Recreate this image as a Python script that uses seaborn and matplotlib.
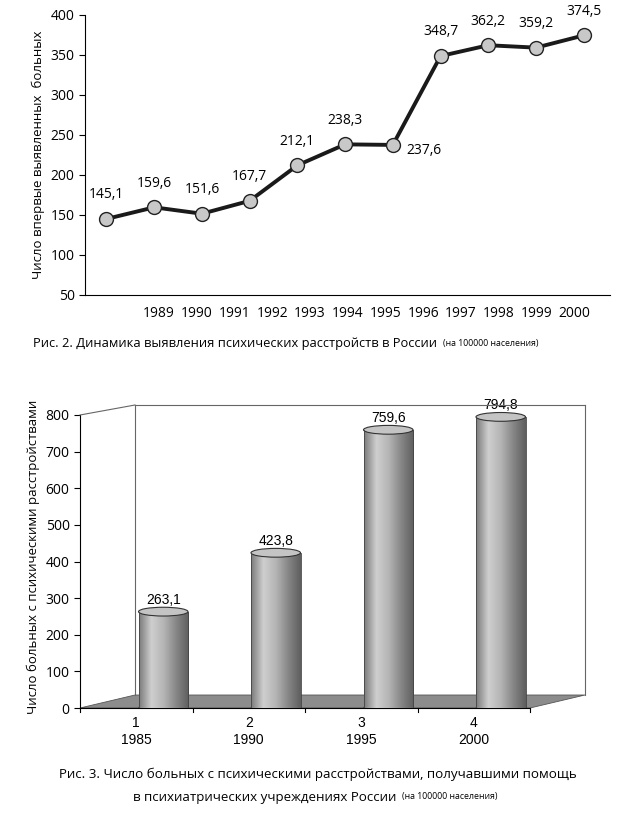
import numpy as np
import matplotlib
matplotlib.use("Agg")
import matplotlib.pyplot as plt
import seaborn as sns
import pandas as pd
from matplotlib.patches import Ellipse, Polygon
from matplotlib.lines import Line2D

line_values = [145.1, 159.6, 151.6, 167.7, 212.1, 238.3, 237.6, 348.7, 362.2, 359.2, 374.5]
line_labels = ["145,1", "159,6", "151,6", "167,7", "212,1", "238,3", "237,6", "348,7", "362,2", "359,2", "374,5"]
year_ticks = ["1989", "1990", "1991", "1992", "1993", "1994", "1995", "1996", "1997", "1998", "1999", "2000"]

bar_cats = ["1\n1985", "2\n1990", "3\n1995", "4\n2000"]
bar_values = [263.1, 423.8, 759.6, 794.8]
bar_labels = ["263,1", "423,8", "759,6", "794,8"]

plt.rcParams["font.family"] = "Open Sans"
W, H = 635, 819
fig = plt.figure(figsize=(W / 100, H / 100), dpi=100)
def fx(x): return x / W
def fy(y): return 1 - y / H

# ---------- top line chart ----------
ax1 = fig.add_axes([fx(85), fy(295), fx(610) - fx(85), fy(15) - fy(295)])
df1 = pd.DataFrame({"i": np.arange(len(line_values)), "v": line_values})
sns.lineplot(data=df1, x="i", y="v", ax=ax1, color="#1a1a1a", lw=2.8,
             marker="o", markersize=10, markerfacecolor="#c8c8c8",
             markeredgecolor="#222222", markeredgewidth=1.0)
ax1.set_xlim(-0.45, 10.55)
ax1.set_ylim(50, 400)
ax1.set_yticks(range(50, 401, 50))
ax1.set_xticks(np.linspace(1.1, 9.8, len(year_ticks)))
ax1.set_xticklabels(year_ticks, fontsize=10)
ax1.tick_params(axis="x", length=0, pad=8)
ax1.tick_params(axis="y", labelsize=10, length=4)
for s in ["top", "right"]:
    ax1.spines[s].set_visible(False)
ax1.set_xlabel("")
ax1.set_ylabel("Число впервые выявленных  больных", fontsize=9.5)
for i, (v, lab) in enumerate(zip(line_values, line_labels)):
    if i == 6:
        ax1.annotate(lab, (i, v), xytext=(10, -4), textcoords="offset points",
                     ha="left", va="center", fontsize=10)
    else:
        ax1.annotate(lab, (i, v), xytext=(0, 12), textcoords="offset points",
                     ha="center", va="bottom", fontsize=10)

def caption(x, y, main, small, fs=9.3):
    t = fig.text(fx(x), fy(y), main, ha="left", va="center", fontsize=fs)
    fig.text(0, 0, "")
    ax1.annotate(small, xy=(1, 0.5), xycoords=t, xytext=(4, 0), textcoords="offset points",
                 ha="left", va="center", fontsize=6.3, annotation_clip=False)
    return t

caption(33, 343, "Рис. 2. Динамика выявления психических расстройств в России", "(на 100000 населения)")

# ---------- bottom 3D-like bar chart ----------
ax2 = fig.add_axes([fx(80), fy(708), fx(530) - fx(80), fy(405) - fy(708)])
ymax = 800 * 303 / 293
wall = dict(color="#666666", lw=0.8)
fig.add_artist(Line2D([fx(135), fx(135)], [fy(695), fy(405)], **wall))
fig.add_artist(Line2D([fx(135), fx(585)], [fy(405), fy(405)], **wall))
fig.add_artist(Line2D([fx(585), fx(585)], [fy(405), fy(695)], **wall))
fig.add_artist(Line2D([fx(80), fx(135)], [fy(415), fy(405)], **wall))
fig.add_artist(Polygon([(fx(80), fy(708)), (fx(530), fy(708)), (fx(585), fy(695)), (fx(135), fy(695))],
                       closed=True, facecolor="#8c8c8c", edgecolor="#555555", lw=0.6,
                       transform=fig.transFigure, zorder=0))

dx = 0.24
df2 = pd.DataFrame({"c": bar_cats, "v": bar_values})
sns.barplot(data=df2, x="c", y="v", ax=ax2, color="#aaaaaa", width=0.44, zorder=3)
grad = np.linspace(0, 1, 256)
grad = np.vstack([grad, grad])
cmap = matplotlib.colors.LinearSegmentedColormap.from_list(
    "cyl", ["#7a7a7a", "#cfcfcf", "#b4b4b4", "#868686", "#5e5e5e"])
eh = 24
for p, v in zip(ax2.patches, bar_values):
    p.set_x(p.get_x() + dx)
    p.set_edgecolor("none")
    x0, w = p.get_x(), p.get_width()
    im = ax2.imshow(grad, cmap=cmap, extent=[x0, x0 + w, 0, v], aspect="auto", zorder=4)
    im.set_clip_path(p)
    ax2.add_patch(Ellipse((x0 + w / 2, 0), w, eh, facecolor="#888888", edgecolor="#444444",
                          lw=0.6, zorder=3.5))
    ax2.add_patch(Ellipse((x0 + w / 2, v), w, eh, facecolor="#c4c4c4", edgecolor="#333333",
                          lw=0.8, zorder=5))
    ax2.plot([x0, x0], [0, v], color="#444444", lw=0.6, zorder=5)
    ax2.plot([x0 + w, x0 + w], [0, v], color="#444444", lw=0.6, zorder=5)
for i, (v, lab) in enumerate(zip(bar_values, bar_labels)):
    ax2.text(i + dx, v + eh / 2 + 2, lab, ha="center", va="bottom", fontsize=10,
             family="Liberation Sans", zorder=6)
ax2.set_xlim(-0.5, 3.5)
ax2.set_ylim(0, ymax)
ax2.patch.set_alpha(0)
ax2.set_yticks(range(0, 801, 100))
ax2.tick_params(axis="y", labelsize=10, length=4)
ax2.set_xticks(range(4))
ax2.set_xticklabels(bar_cats, fontsize=10, family="Liberation Sans")
ax2.tick_params(axis="x", length=0, pad=6)
for xb in [-0.5, 0.5, 1.5, 2.5, 3.5]:
    ax2.plot([xb, xb], [0, -12], color="black", lw=0.8, clip_on=False)
for s in ["top", "right"]:
    ax2.spines[s].set_visible(False)
ax2.spines["left"].set_bounds(0, 800)
ax2.set_xlabel("")
ax2.set_ylabel("Число больных с психическими расстройствами", fontsize=9.5)
fig.text(fx(318), fy(774), "Рис. 3. Число больных с психическими расстройствами, получавшими помощь",
         ha="center", va="center", fontsize=9.6)
caption(133, 797, "в психиатрических учреждениях России", "(на 100000 населения)", fs=9.6)

fig.savefig("out.png", dpi=100)
